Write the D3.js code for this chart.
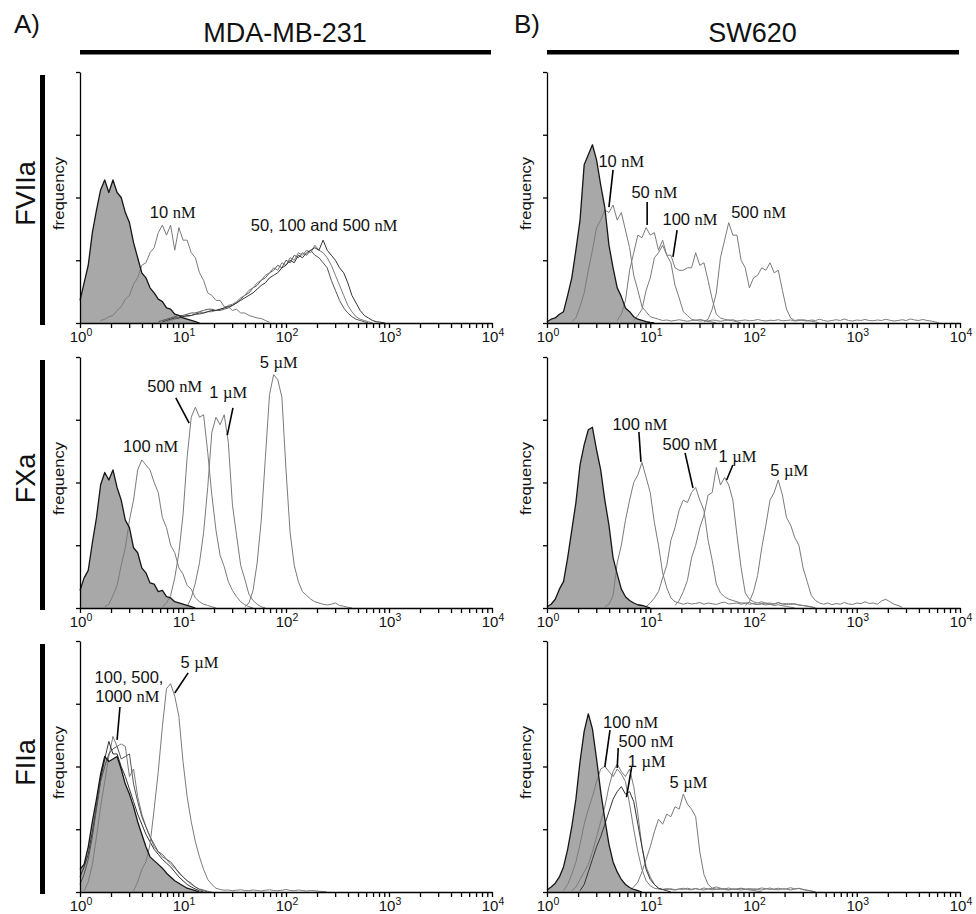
<!DOCTYPE html>
<html>
<head>
<meta charset="utf-8">
<script src="https://cdn.jsdelivr.net/npm/d3@7"></script>
<style>
  body { margin: 0; background: #fff; }
  svg { display: block; }
</style>
</head>
<body>
<script>
// Histogram channel width, in decades of fluorescence intensity
const BIN = 0.04;

// Axis and heading text
const decades = [0, 1, 2, 3, 4];
const freqTicks = [0, 25, 50, 75, 100];
const cellLines = ["MDA-MB-231", "SW620"];
const panelLetters = ["A)", "B)"];
const proteases = ["FVIIa", "FXa", "FIIa"];

// ---- MDA-MB-231, FVIIa (frequency, % of axis maximum, per channel) ----
const mdaFVIIa_control = [9,16,23,36,45,53,57,52,57,52,50,44,40,32,26,20,18,14,12,9.5,8.5,6,5.5,3.5,3,2,1.5,1,0.5,0];
const mdaFVIIa_10nM = [1,1.5,2.5,3,5,6.5,9.5,11,15.5,18,23,24,28,30,36,39,35,39,29,38,33,33,28,26,20,17,12,11,9,9,6.5,6.5,5,5.5,4,4,3,2.5,2,1.8,1,0.3];
const mdaFVIIa_50nM = [0.5,1,1.5,2,2.5,3,3,3.5,4,4,4.5,5,5.5,5.5,5,5,5.5,6,7,8,9.5,11,12,14,15,17,18,20,21,23,22,25,24,27,26,28,27,29,27,26,24,22,17,13,9,6,4,2.5,1.5,1,0.5,0];
const mdaFVIIa_100nM = [0.5,1,1.5,2,2.5,2.5,3,3.5,3.5,4,4.5,4.5,5,5.5,6,7,7.5,8.5,10,11,13,14,16,17,19,20,22,21,24,23,26,25,28,27,29,28,31,29,28,26,23,19,15,11,7,4.5,2.5,1.5,1,0.5,0];
const mdaFVIIa_500nM = [0.5,1,1.5,2,2,2.5,3,3,3.5,4,4,4.5,5,5,5.5,6,6.5,7,8,9,10,11,12,13.5,15,16,18,19,20,22,23,25,24,27,26,28,29,30,29,33,29,27,25,22,20,16,11,8,5,3,2,1,0.5,0.3,0];

// ---- SW620, FVIIa ----
const swFVIIa_control = [0.5,1.5,2,3.5,4.5,11,18,29,41,63,67,71,65,55,46,31,22,14,10.5,6,4.5,2.5,1.5,1,0.5,0.2,0];
const swFVIIa_10nM = [0.5,2,6.5,12,21,29,38,41,45,44,47,41,44,37,30,19,13,6.5,4.5,2.5,2,1.5,1,1.2,0.8,1,1.3,1,0.7,1,1.2,0.8,1,0.6,0.4,0];
const swFVIIa_50nM = [1,3.5,9,21,28,35,34,38,35,36,29,33,27,24,15,10,4.5,3,1.5,1,1.5,1,0.8,1.2,1,0.7,1,1.3,0.9,0.5,0];
const swFVIIa_100nM = [1,3,5.5,13,18,26,28,31,27,27,22,21,21,22,22,28,23,24,17,9.5,3.5,2,1.5,1,1.3,0.8,1,1.2,0.9,1,1.4,1,0.8,1.1,1,1.3,0.9,1,1.2,0.8,1,1.3,1,0.7,0.4,0];
const swFVIIa_500nM = [0.5,1.5,5.5,12,26,33,40,35,35,25,22,14,18,19,22,21,24,20,21,13,5.5,2,1,1.3,1,0.8,1.2,1,1.5,1,0.7,1,1.3,1,1.6,1,0.8,1.2,1,1.4,1,0.9,1.2,1,1.5,1.1,0.8,1,1.3,1,1.6,1.2,1,1.4,1,0.8,0.4,0];

// ---- MDA-MB-231, FXa ----
const mdaFXa_control = [7,12,15,26,36,49,54,51,55,48,43,35,32,24,22,16,14,10,9.5,6.5,7,4.5,4,2.5,2,1.5,1,0.5,0];
const mdaFXa_100nM = [0.5,1.5,5,9,17,24,35,43,55,59,57,55,50,46,36,32,25,22,16,13.5,9,7.5,4,2.5,1.5,1,0.5,0];
const mdaFXa_500nM = [0.5,2,5,12,22,37,60,76,80,76,77,62,45,31,21,16.5,10.5,7,4.5,2.5,1.3,0.5,0];
const mdaFXa_1uM = [0.5,4,10,18,30,48,70,76,73,77,66,41,29,17,11.5,5.5,3,1.5,0.5,0];
const mdaFXa_5uM = [0.5,2,7,18,35,60,85,93,91,84,55,30,17,10.5,6.5,5,3.5,2.5,2,1.5,1.2,1.5,2,1,0.7,0.3,0];

// ---- SW620, FXa ----
const swFXa_control = [0.5,1.5,3.5,7.5,10.5,20,31,42,57,65,71,72,63,55,43,33,20,13.5,7.5,4.5,3,2,1.3,1,0.5,0];
const swFXa_100nM = [0.5,1.5,5,18,25,35,43,50,53,58,52,46,34,25,14,8,4,2.5,2,1.5,2,1.6,1.8,2.2,1.5,2,1.7,1.4,2,2.3,1.6,1.8,2,1.5,1.9,2.2,1.6,1.4,1.8,2,1.5,1.7,2.1,1.6,1.3,1.8,1.5,1.2,1,0.8,0.5,0];
const swFXa_500nM = [0.5,2,4,6.5,12,17,27,32,39,43,42,46,48,43,39,27,19,9.5,6,4.5,3.5,3,2.5,2,2,1.5,1.8,1.4,1.6,1.2,1.5,1,1.3,0.9,0.6,0.3,0];
const swFXa_1uM = [1,3,6.5,11,20,25,32,37,45,46,56,49,52,49,43,29,16,6,3.5,2.5,2,2.5,1.8,2,1.5,2.2,1.6,1.8,1.4,1.7,1.2,1,0.7,0.4,0];
const swFXa_5uM = [1,2.5,6.5,13,24,33,43,46,51,45,36,33,28,25,16,10.5,5,3,2,1.5,2,1.3,1.8,1.5,2.2,1.6,1.4,2,1.7,2.5,1.8,2,1.5,2.8,3.5,2.5,1.5,1,0.3];

// ---- MDA-MB-231, FIIa ----
const mdaFIIa_control = [9,11,18,28,37,47,54,52,53,54,49,43,39,34,28,23,18,14,12.5,11,9.5,7.5,6,4.5,3.5,2.5,1.5,1,0.5,0];
const mdaFIIa_100nM = [0.5,4,11,22,34,44,54,62,58,59,58,46,49,38,31,26,22,18,16,14,13,11,9.5,8,6,4.5,3,2,1.2,0.8,0.3,0];
const mdaFIIa_500nM = [6,10,15,24,34,45,53,60,55,55,50,46,41,36,31,27,23,20,17,15,13,11.5,10,8,6,4.5,3,2,1.2,0.5,0];
const mdaFIIa_1000nM = [3,7,13,22,33,44,50,55,57,58,53,54,55,43,36,30,26,22,19,16,15,13,12,10,7.5,6,4.5,3.5,2,1,0.5,0];
const mdaFIIa_5uM = [0.5,4,9,12,19,33,48,66,81,83,78,70,52,38,28,20,14,9,5,3,1.5,1,0.7,0.8,0.5,0.7,0.9,0.6,0.5,0.8,0.6,0.4,0.7,0.9,0.6,0.5,0.7,1,0.6,0.5,0.8,0.6,0.4,0.6,0.5,0.3,0.2,0];

// ---- SW620, FIIa ----
const swFIIa_control = [0.8,2,3.5,6,10,17,26,37,52,64,71,65,53,40,29,19,12,8,5,3,1.8,1,0.5,0];
const swFIIa_100nM = [0.5,3,7,12,19,27,33,38,44,49,50,48,46,49,47,44,35,25,16,9,4.5,2.5,1.5,1.2,1,1.4,1,0.8,1.2,1.5,1,0.9,1.3,1,1.6,1.2,0.9,1.1,1.4,1,0.8,1.2,1,1.5,1.1,0.9,1.3,1,0.8,1.2,1.6,1,0.9,1.3,1.1,0.8,1.2,1.5,1,0.7,0.4,0];
const swFIIa_500nM = [0.5,2,5,8,11,16,22,28,34,42,48,51,48,46,49,42,31,18,10,6,3,1.5,1,1,1.3,0.9,1.2,1,1.5,1.1,1.4,1,0.8,1.2,1.5,1.1,1,1.3,0.9,1.2,1,0.8,1.1,0.9,0.6,0.3,0];
const swFIIa_1uM = [0.5,3,8,13,18,22,27,32,37,40,42,39,40,36,27,18,9,5,3,1.5,1,0.5,0];
const swFIIa_5uM = [0.5,2,4,8,13,18,24,29,27,31,30,34,33,39,35,33,30,16,7,3,1.5,2,1.5,1.2,1.6,1,1.3,1.5,1.1,1.4,1,1.2,1.6,1.3,1,1.2,1.5,1.1,1.3,1.7,1.2,1.4,1,0.7,0.4,0];

// Panel table: [style, first channel (log10 intensity), frequencies]
const panels = [
  { row: 0, col: 0,
    curves: [["control", 0, mdaFVIIa_control], ["light", 0.20, mdaFVIIa_10nM],
             ["mid", 0.76, mdaFVIIa_50nM], ["light", 0.84, mdaFVIIa_100nM], ["dark", 0.80, mdaFVIIa_500nM]],
    labels: [
      { t: ["10 ", "nM"], at: [0.90, 41.8] },
      { t: ["50, 100 and 500 ", "nM"], at: [2.37, 36.7] }
    ] },
  { row: 0, col: 1,
    curves: [["control", 0, swFVIIa_control], ["light", 0.24, swFVIIa_10nM], ["light", 0.68, swFVIIa_50nM],
             ["light", 0.84, swFVIIa_100nM], ["light", 1.52, swFVIIa_500nM]],
    labels: [
      { t: ["10 ", "nM"], at: [0.72, 62.2], lead: [[0.64, 61], [0.60, 46.2]] },
      { t: ["50 ", "nM"], at: [1.04, 49.8], lead: [[0.97, 48.2], [0.97, 39]] },
      { t: ["100 ", "nM"], at: [1.385, 39], lead: [[1.26, 37], [1.22, 26.3]] },
      { t: ["500 ", "nM"], at: [2.05, 41.8] }
    ] },
  { row: 1, col: 0,
    curves: [["control", 0, mdaFXa_control], ["light", 0.24, mdaFXa_100nM], ["light", 0.80, mdaFXa_500nM],
             ["light", 1.04, mdaFXa_1uM], ["light", 1.60, mdaFXa_5uM]],
    labels: [
      { t: ["100 ", "nM"], at: [0.685, 62.2] },
      { t: ["500 ", "nM"], at: [0.92, 86], lead: [[0.93, 83.7], [1.06, 73.7]] },
      { t: ["1 ", "\u00b5M"], at: [1.44, 83.7], lead: [[1.485, 79.7], [1.43, 68.9]] },
      { t: ["5 ", "\u00b5M"], at: [1.93, 95.6] }
    ] },
  { row: 1, col: 1,
    curves: [["control", 0, swFXa_control], ["light", 0.56, swFXa_100nM], ["light", 0.96, swFXa_500nM],
             ["light", 1.24, swFXa_1uM], ["light", 1.92, swFXa_5uM]],
    labels: [
      { t: ["100 ", "nM"], at: [0.90, 70.9], lead: [[0.89, 70.1], [0.91, 58.2]] },
      { t: ["500 ", "nM"], at: [1.385, 62.9], lead: [[1.337, 61.8], [1.414, 47.8]] },
      { t: ["1 ", "\u00b5M"], at: [1.845, 58.2], lead: [[1.80, 57], [1.74, 51]] },
      { t: ["5 ", "\u00b5M"], at: [2.345, 52.6] }
    ] },
  { row: 2, col: 0,
    curves: [["control", 0, mdaFIIa_control], ["light", 0.04, mdaFIIa_100nM], ["dark", 0, mdaFIIa_500nM],
             ["mid", 0, mdaFIIa_1000nM], ["light", 0.52, mdaFIIa_5uM]],
    labels: [
      { t: ["100, 500,"], at: [0.476, 83.3] },
      { t: ["1000 ", "nM"], at: [0.46, 75.7], lead: [[0.388, 73.7], [0.36, 60.6]] },
      { t: ["5 ", "\u00b5M"], at: [1.16, 89.2], lead: [[1.05, 87.3], [0.92, 79.3]] }
    ] },
  { row: 2, col: 1,
    curves: [["control", 0, swFIIa_control], ["light", 0.16, swFIIa_100nM], ["light", 0.24, swFIIa_500nM],
             ["dark", 0.32, swFIIa_1uM], ["light", 0.80, swFIIa_5uM]],
    labels: [
      { t: ["100 ", "nM"], at: [0.81, 65.3], lead: [[0.61, 64.5], [0.56, 49.8]] },
      { t: ["500 ", "nM"], at: [0.96, 57.8], lead: [[0.69, 57.4], [0.68, 49.4]] },
      { t: ["1 ", "\u00b5M"], at: [0.965, 49.8], lead: [[0.82, 49.8], [0.77, 37.8]] },
      { t: ["5 ", "\u00b5M"], at: [1.37, 41.4] }
    ] }
];

// ---------------- layout ----------------
const W = 976, H = 914;
const COLS = [{ x: 80, w: 412 }, { x: 547, w: 413 }];
const ROWS = [72, 357, 641];
const PH = 251;
const SANS = "'Liberation Sans', Arial, Helvetica, sans-serif";
const SERIF = "'Liberation Serif', 'Times New Roman', serif";
const STROKES = { light: "#7b7b7b", mid: "#555", dark: "#333", control: "#161616" };

const svg = d3.select("body").append("svg")
  .attr("width", W).attr("height", H)
  .attr("viewBox", `0 0 ${W} ${H}`);

svg.append("rect").attr("width", W).attr("height", H).attr("fill", "#fff");

// Column headings with thick rules underneath
COLS.forEach((c, i) => {
  svg.append("text")
    .attr("x", i === 0 ? 14 : 514).attr("y", 33)
    .attr("font-family", SANS).attr("font-size", 26).attr("fill", "#111")
    .text(panelLetters[i]);
  svg.append("text")
    .attr("x", c.x + c.w / 2 - 1).attr("y", 42)
    .attr("text-anchor", "middle")
    .attr("font-family", SANS).attr("font-size", 27).attr("fill", "#111")
    .text(cellLines[i]);
  svg.append("rect")
    .attr("x", c.x).attr("y", 50).attr("width", c.w - 1).attr("height", 4.5)
    .attr("fill", "#000");
});

// Row headings with thick vertical rules
ROWS.forEach((top, r) => {
  svg.append("rect")
    .attr("x", 40).attr("y", top + 3).attr("width", 5).attr("height", PH - 1)
    .attr("fill", "#000");
  svg.append("text")
    .attr("transform", `translate(35,${top + PH / 2 - 4}) rotate(-90)`)
    .attr("text-anchor", "middle")
    .attr("font-family", SANS).attr("font-size", 27).attr("fill", "#111")
    .text(proteases[r]);
});

const minorTicks = [];
for (let d = 0; d < 4; d++) for (let k = 1; k < 10; k++) minorTicks.push(k * Math.pow(10, d));
minorTicks.push(1e4);

panels.forEach(p => {
  const c = COLS[p.col];
  const top = ROWS[p.row];
  const bottom = top + PH;

  const x = d3.scaleLog().domain([1, 1e4]).range([c.x, c.x + c.w]);
  const y = d3.scaleLinear().domain([0, 100]).range([bottom, top]);

  const g = svg.append("g");

  const toPts = (start, vals) => vals.map((v, i) => [Math.pow(10, start + i * BIN), v]);
  const line = d3.line().x(d => x(d[0])).y(d => y(d[1]));
  const area = d3.area().x(d => x(d[0])).y0(y(0)).y1(d => y(d[1]));

  // filled unstained control first, then the treated samples, control outline on top
  const ctrl = p.curves.find(cv => cv[0] === "control");
  g.append("path").datum(toPts(ctrl[1], ctrl[2]))
    .attr("d", area).attr("fill", "#a8a8a8").attr("stroke", "none");

  p.curves.filter(cv => cv[0] !== "control").forEach(cv => {
    g.append("path").datum(toPts(cv[1], cv[2]))
      .attr("d", line).attr("fill", "none")
      .attr("stroke", STROKES[cv[0]]).attr("stroke-width", 1)
      .attr("stroke-linejoin", "round");
  });

  g.append("path").datum(toPts(ctrl[1], ctrl[2]))
    .attr("d", line).attr("fill", "none")
    .attr("stroke", STROKES.control).attr("stroke-width", 1.3)
    .attr("stroke-linejoin", "round");

  // axes
  const xAxis = d3.axisBottom(x).tickValues(minorTicks).tickSize(5).tickSizeOuter(0).tickFormat("");
  const gx = g.append("g").attr("transform", `translate(0,${bottom})`).call(xAxis);
  const yAxis = d3.axisLeft(y).tickValues(freqTicks).tickSize(4).tickSizeOuter(0).tickFormat("");
  const gy = g.append("g").attr("transform", `translate(${c.x},0)`).call(yAxis);
  [gx, gy].forEach(a => {
    a.selectAll("path, line").attr("stroke", "#000").attr("stroke-width", 1.3);
  });

  decades.forEach(d => {
    const t = g.append("text")
      .attr("x", x(Math.pow(10, d)) + 1).attr("y", bottom + 19)
      .attr("text-anchor", "middle")
      .attr("font-family", SANS).attr("font-size", 15).attr("fill", "#111");
    t.append("tspan").text("10");
    t.append("tspan").attr("dy", -6.5).attr("font-size", 10.5).text(d);
  });

  g.append("text")
    .attr("transform", `translate(${c.x - 16},${top + PH / 2 - 4}) rotate(-90)`)
    .attr("text-anchor", "middle")
    .attr("font-family", SANS).attr("font-size", 14).attr("fill", "#111")
    .attr("textLength", 73).attr("lengthAdjust", "spacingAndGlyphs")
    .text("frequency");

  // concentration labels with leader lines
  p.labels.forEach(l => {
    const t = g.append("text")
      .attr("x", x(Math.pow(10, l.at[0]))).attr("y", y(l.at[1]))
      .attr("text-anchor", "middle").attr("font-size", 16.5).attr("fill", "#111");
    t.append("tspan").attr("font-family", SANS).text(l.t[0]);
    if (l.t[1]) t.append("tspan").attr("font-family", SERIF).text(l.t[1]);
    if (l.lead) {
      g.append("line")
        .attr("x1", x(Math.pow(10, l.lead[0][0]))).attr("y1", y(l.lead[0][1]))
        .attr("x2", x(Math.pow(10, l.lead[1][0]))).attr("y2", y(l.lead[1][1]))
        .attr("stroke", "#000").attr("stroke-width", 1.6);
    }
  });
});
</script>
</body>
</html>
